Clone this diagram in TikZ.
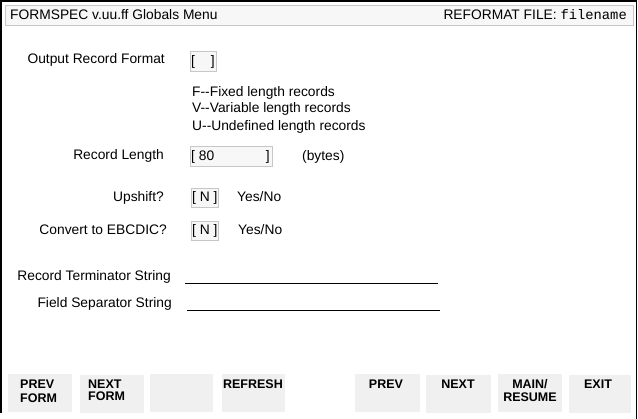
\documentclass[tikz,border=0pt]{standalone}
\usepackage{fontspec}
\setmainfont{Liberation Sans}
\setmonofont{Liberation Mono}
\begin{document}
\begin{tikzpicture}[x=1pt,y=-1pt,
 lbl/.style={inner sep=0pt, font=\fontsize{13.8}{16}\selectfont},
 ttl/.style={inner sep=0pt, font=\fontsize{13.8}{16}\selectfont},
 fld/.style={draw=black!22, fill=black!3, line width=1pt, inner sep=0pt},
 btn/.style={fill=black!6, draw=none, inner sep=0pt},
 btxt/.style={inner sep=0pt, font=\fontsize{12.5}{14}\selectfont\bfseries, align=left},
 uline/.style={line width=1pt},
]
\useasboundingbox (0,0) rectangle (638,419);
\fill[white] (0,0) rectangle (638,419);
% outer frame
\draw[line width=1.5pt] (1,413) -- (1,1) -- (636.5,1) -- (636.5,419);
% title bar
\node[fld, minimum width=628, minimum height=20, anchor=north west] (titlebar) at (5,5) {};
\node[ttl, anchor=base west] (title) at (10,20) {FORMSPEC v.uu.ff Globals Menu};
\node[ttl, anchor=base east] (file) at (627,20) {REFORMAT FILE: {\ttfamily filename}};

% Output record format
\node[lbl, anchor=base east] (orf) at (165,64) {Output Record Format};
\node[fld, minimum width=26, minimum height=20, anchor=north west] (orfbox) at (190,51) {};
\node[lbl, anchor=base west] (orfl) at (191,66) {[};
\node[lbl, anchor=base east] (orfr) at (215,66) {]};
\node[lbl, anchor=base west] (optF) at (192,97) {F-\kern0pt-Fixed length records};
\node[lbl, anchor=base west] (optV) at (192,113) {V-\kern0pt-Variable length records};
\node[lbl, anchor=base west] (optU) at (192,131) {U-\kern0pt-Undefined length records};

% Record length
\node[lbl, anchor=base east] (rl) at (164,160) {Record Length};
\node[fld, minimum width=82, minimum height=20, anchor=north west] (rlbox) at (190,146) {};
\node[lbl, anchor=base west] (rlv) at (191,161) {[ 80};
\node[lbl, anchor=base east] (rlr) at (270,161) {]};
\node[lbl, anchor=base west] (bytes) at (302,161) {(bytes)};

% Upshift
\node[lbl, anchor=base east] (up) at (164,202) {Upshift?};
\node[fld, minimum width=27, minimum height=19, anchor=north west] (upbox) at (191,188) {};
\node[lbl, anchor=base west] (upv) at (192,202) {[ N ]};
\node[lbl, anchor=base west] (upyn) at (237,202) {Yes/No};

% Convert
\node[lbl, anchor=base east] (cv) at (167,235) {Convert to EBCDIC?};
\node[fld, minimum width=27, minimum height=19, anchor=north west] (cvbox) at (191,221) {};
\node[lbl, anchor=base west] (cvv) at (192,235) {[ N ]};
\node[lbl, anchor=base west] (cvyn) at (238,235) {Yes/No};

% Strings
\node[lbl, anchor=base east] (rts) at (171,281) {Record Terminator String};
\coordinate (rtsA) at (185,284);
\coordinate (rtsB) at (438,284);
\draw[uline] (rtsA) -- (rtsB);
\node[lbl, anchor=base east] (fss) at (172,308) {Field Separator String};
\coordinate (fssA) at (187,311);
\coordinate (fssB) at (440,311);
\draw[uline] (fssA) -- (fssB);

% Buttons
\node[btn, minimum width=64, minimum height=38, anchor=north west] (b1) at (8,374) {};
\node[btn, minimum width=64, minimum height=38, anchor=north west] (b2) at (80,375) {};
\node[btn, minimum width=63, minimum height=38, anchor=north west] (b3) at (150,374) {};
\node[btn, minimum width=63, minimum height=38, anchor=north west] (b4) at (222,374) {};
\node[btn, minimum width=65, minimum height=38, anchor=north west] (b5) at (355,374) {};
\node[btn, minimum width=65, minimum height=38, anchor=north west] (b6) at (426,375) {};
\node[btn, minimum width=64, minimum height=38, anchor=north west] (b7) at (498,374) {};
\node[btn, minimum width=62, minimum height=38, anchor=north west] (b8) at (569,375) {};

\node[btxt, anchor=base west] (t1a) at (20,389) {PREV};
\node[btxt, anchor=base west] (t1b) at (20,403) {FORM};
\node[btxt, anchor=base west] (t2a) at (88,389) {NEXT};
\node[btxt, anchor=base west] (t2b) at (88,401) {FORM};
\node[btxt, anchor=base] (t4) at (253,389) {REFRESH};
\node[btxt, anchor=base] (t5) at (386,389) {PREV};
\node[btxt, anchor=base] (t6) at (458,389) {NEXT};
\node[btxt, anchor=base] (t7a) at (530,389) {MAIN/};
\node[btxt, anchor=base] (t7b) at (530,402) {RESUME};
\node[btxt, anchor=base] (t8) at (598,389) {EXIT};
\end{tikzpicture}
\end{document}
